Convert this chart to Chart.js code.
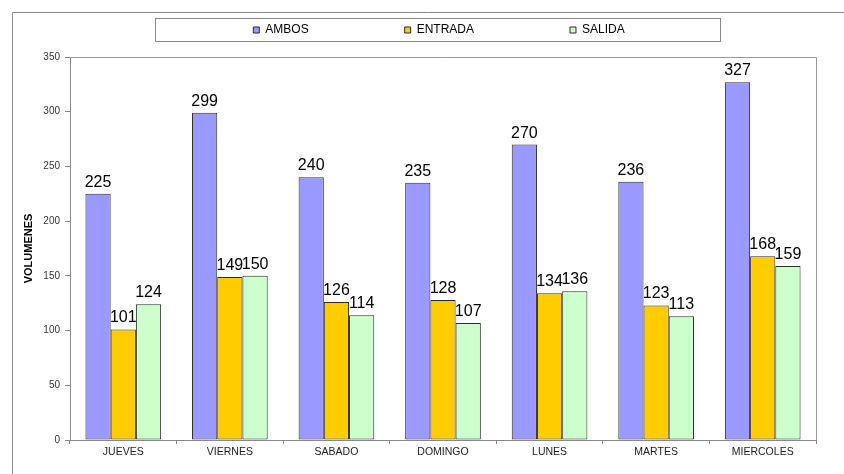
<!DOCTYPE html>
<html>
<head>
<meta charset="utf-8">
<script src="https://cdn.jsdelivr.net/npm/chart.js@4.4.1/dist/chart.umd.min.js"></script>
<style>
  html, body { margin: 0; padding: 0; background: #fff; }
  #wrap { width: 844px; height: 474px; position: relative; }
</style>
</head>
<body>
<div id="wrap"><canvas id="volChart"></canvas></div>
<script>
// Volumes per day
const days = ['JUEVES', 'VIERNES', 'SABADO', 'DOMINGO', 'LUNES', 'MARTES', 'MIERCOLES'];
const ambos = [225, 299, 240, 235, 270, 236, 327];
const entrada = [101, 149, 126, 128, 134, 123, 168];
const salida = [124, 150, 114, 107, 136, 113, 159];
const yMin = 0, yMax = 350, yStep = 50;

const FONT = "'Liberation Sans', Arial, sans-serif";
const LINE_GREY = '#888888';

// Frame, legend box, plot border and value labels
const framePlugin = {
    id: 'framePlugin',
    beforeLayout(chart) {
        const lg = chart.legend;
        if (lg && !lg._fixed) {
            const fit = lg.fit;
            lg.fit = function() { fit.call(this); this.height = 57; };
            lg._fixed = true;
        }
    },
    afterLayout(chart) {
        const lg = chart.legend;
        lg.top = 24 - lg.options.labels.padding;
        lg.left += 31;
        lg.right += 31;
    },
    beforeDraw(chart) {
        const ctx = chart.ctx;
        ctx.save();
        ctx.strokeStyle = LINE_GREY;
        ctx.lineWidth = 1;
        // outer frame (top + left)
        ctx.beginPath();
        ctx.moveTo(12.5, chart.height);
        ctx.lineTo(12.5, 12.5);
        ctx.lineTo(chart.width, 12.5);
        ctx.stroke();
        // legend box
        ctx.strokeRect(155.5, 18.5, 565, 23);
        ctx.restore();
    },
    afterDatasetsDraw(chart) {
        const ctx = chart.ctx;
        const a = chart.chartArea;
        ctx.save();
        ctx.strokeStyle = '#999999';
        ctx.lineWidth = 1;
        ctx.beginPath();
        ctx.moveTo(a.left, a.top + 0.5);
        ctx.lineTo(a.right + 0.5, a.top + 0.5);
        ctx.lineTo(a.right + 0.5, a.bottom);
        ctx.stroke();

        ctx.fillStyle = '#000';
        ctx.font = '16px ' + FONT;
        ctx.textAlign = 'center';
        ctx.textBaseline = 'alphabetic';
        chart.data.datasets.forEach((ds, i) => {
            chart.getDatasetMeta(i).data.forEach((bar, j) => {
                ctx.fillText(String(ds.data[j]), bar.x, bar.y - 7);
            });
        });
        ctx.restore();
    }
};

const barBorder = '#2b2b2b';

new Chart(document.getElementById('volChart'), {
    type: 'bar',
    data: {
        labels: days,
        datasets: [
            { label: 'AMBOS', data: ambos, backgroundColor: '#9999FF', borderColor: barBorder, borderWidth: 1, borderSkipped: false },
            { label: 'ENTRADA', data: entrada, backgroundColor: '#FFCC00', borderColor: barBorder, borderWidth: 1, borderSkipped: false },
            { label: 'SALIDA', data: salida, backgroundColor: '#CCFFCC', borderColor: barBorder, borderWidth: 1, borderSkipped: false }
        ]
    },
    options: {
        responsive: true,
        maintainAspectRatio: false,
        animation: false,
        layout: { padding: { top: 0, left: 0, right: 28, bottom: 0 } },
        datasets: {
            bar: { categoryPercentage: 0.71, barPercentage: 1.0 }
        },
        plugins: {
            legend: {
                display: true,
                position: 'top',
                labels: {
                    boxWidth: 6,
                    boxHeight: 6,
                    padding: 96,
                    color: '#000',
                    font: { family: FONT, size: 12 }
                }
            },
            tooltip: { enabled: false }
        },
        scales: {
            x: {
                grid: { display: true, drawOnChartArea: false, tickLength: 4, color: LINE_GREY },
                border: { color: LINE_GREY },
                ticks: { color: '#222', padding: 2, maxRotation: 0, font: { family: FONT, size: 10.5 } },
                afterFit(scale) { scale.height = 34; }
            },
            y: {
                min: yMin,
                max: yMax,
                grid: { display: true, drawOnChartArea: false, tickLength: 5, color: LINE_GREY },
                border: { color: LINE_GREY },
                ticks: { stepSize: yStep, color: '#333', padding: 5, font: { family: FONT, size: 10 } },
                title: {
                    display: true,
                    text: 'VOLUMENES',
                    color: '#000',
                    padding: { top: 22, bottom: 0 },
                    font: { family: FONT, size: 11, weight: 'bold' }
                },
                afterFit(scale) { scale.width = 70; }
            }
        }
    },
    plugins: [framePlugin]
});
</script>
</body>
</html>
